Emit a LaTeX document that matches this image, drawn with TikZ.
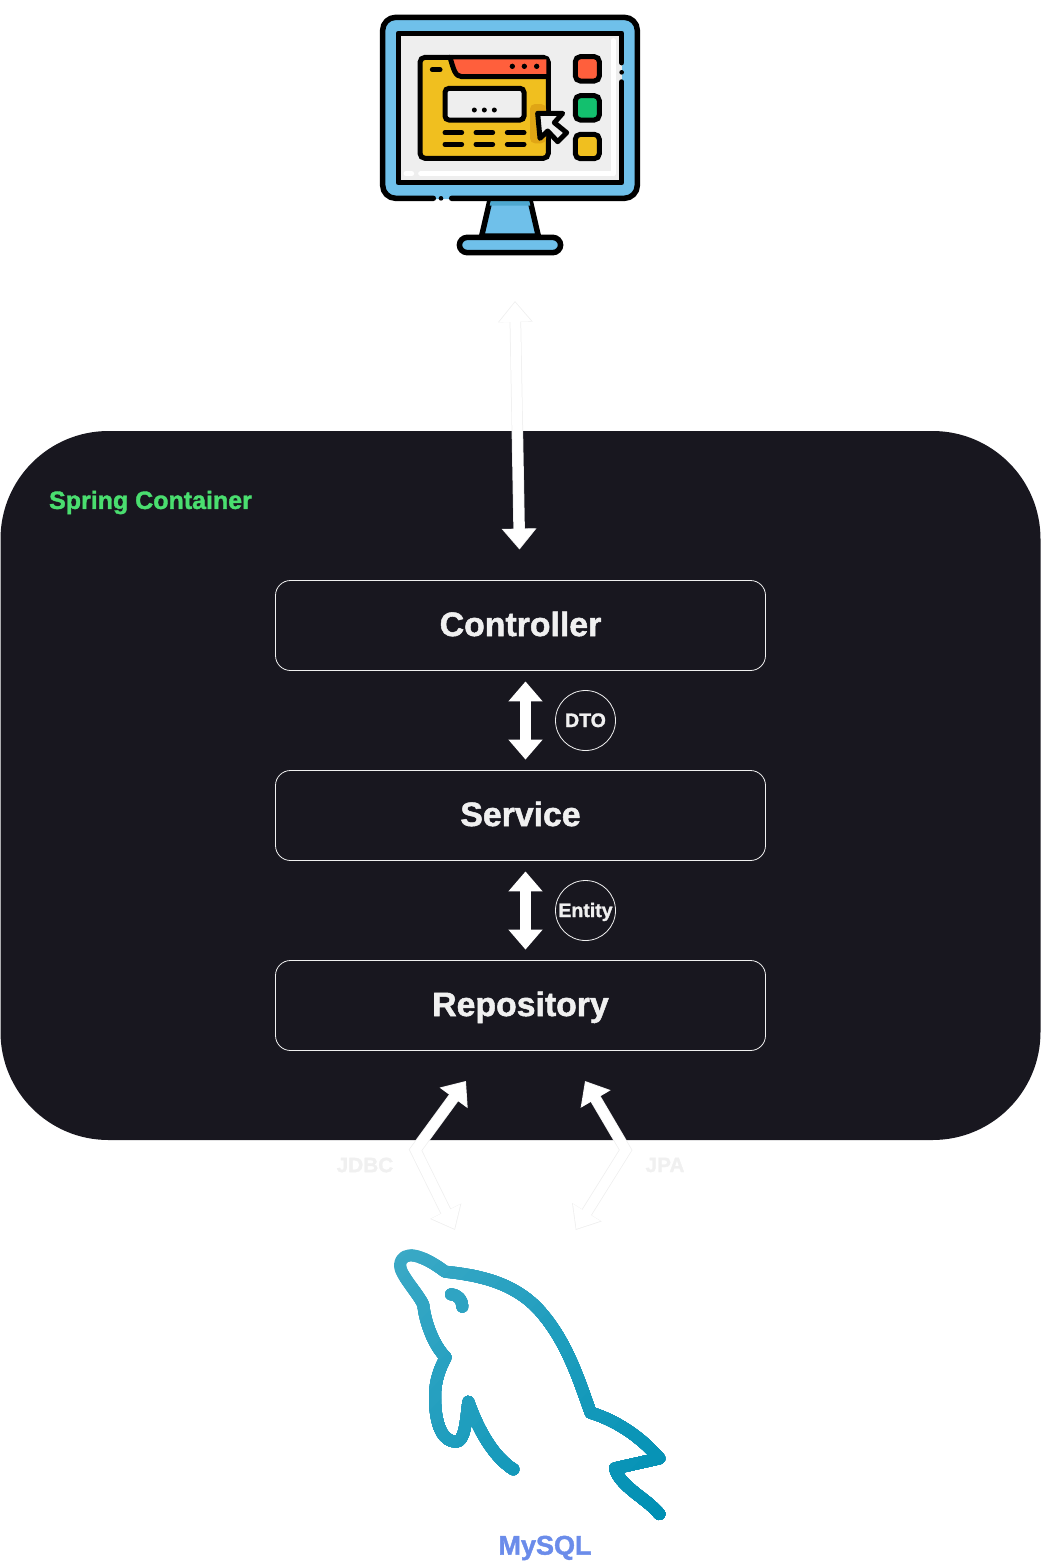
\documentclass[tikz,border=0pt]{standalone}
\usepackage{fontspec}
\setmainfont{Liberation Sans}[BoldFeatures={FakeBold=1.5}]
\usetikzlibrary{arrows.meta,calc}
\definecolor{panelink}{HTML}{18171F}
\definecolor{labelgrey}{HTML}{F0F0F0}
\definecolor{faintline}{HTML}{EFEFEF}
\definecolor{springgreen}{HTML}{4ADE6F}
\definecolor{mysqlblue}{HTML}{6B8CEA}
\definecolor{screenblue}{HTML}{6FC0EA}
\definecolor{standdark}{HTML}{4EA8D0}
\definecolor{screengrey}{HTML}{EEEEEE}
\definecolor{winyellow}{HTML}{F0BF1F}
\definecolor{winshadow}{HTML}{E0A515}
\definecolor{winred}{HTML}{FF5F3C}
\definecolor{wingreen}{HTML}{13C06E}
\definecolor{dolphinA}{HTML}{3AA9C6}
\definecolor{dolphinB}{HTML}{0090B4}
\newcommand{\dolphinbody}{%
  (400,688) .. controls (340,650) and (295,570) .. (265,485)
  .. controls (258,540) and (255,605) .. (228,605)
  .. controls (190,605) and (165,560) .. (165,470)
  .. controls (165,420) and (180,385) .. (197,352)
  .. controls (160,315) and (135,245) .. (130,195)
  .. controls (115,160) and (60,105) .. (60,75)
  .. controls (65,25) and (130,45) .. (195,95)
  .. controls (290,105) and (410,125) .. (490,225)
  .. controls (565,315) and (600,430) .. (632,518)
  .. controls (720,545) and (790,600) .. (838,655)
  -- (705,685)
  .. controls (720,740) and (800,775) .. (838,822)
  (213,163) .. controls (235,165) and (247,180) .. (247,200)}
\tikzset{
  panel/.style={draw=none,fill=panelink,rounded corners=108pt,minimum width=1040pt,minimum height=709pt,inner sep=0},
  layerbox/.style={draw=labelgrey,line width=0.8pt,fill=panelink,rounded corners=15pt,minimum width=490pt,minimum height=90pt,inner sep=0,text=labelgrey,text height=28pt,text depth=7pt,font=\fontsize{33.8}{36}\selectfont\bfseries},
  tagcircle/.style={circle,draw=labelgrey,line width=0.8pt,minimum size=60pt,inner sep=0,text=labelgrey,text height=17pt,text depth=4pt,font=\fontsize{19.5}{22}\selectfont\bfseries},
  flowback/.style={draw=faintline,line width=11.5pt,line join=miter,{Triangle[length=21pt,width=33.5pt]}-{Triangle[length=21pt,width=33.5pt]}},
  flowfront/.style={draw=white,line width=10pt,line join=miter,shorten >=1.2pt,shorten <=1.2pt,{Triangle[length=19.5pt,width=31pt]}-{Triangle[length=19.5pt,width=31pt]}},
  solidflow/.style={draw=white,line width=11.5pt,{Triangle[length=20pt,width=33pt]}-{Triangle[length=20pt,width=33pt]}},
  faintlabel/.style={text=labelgrey,inner sep=0,font=\fontsize{20.8}{24}\selectfont\bfseries},
  iconline/.style={draw=black,line width=5.5pt,line join=round,line cap=round},
  icondot/.style={fill=black,draw=none},
}
\begin{document}
\begin{tikzpicture}[x=1pt,y=-1pt]
\useasboundingbox (0,0) rectangle (1041,1561);
% container
\node[panel] (container) at (520.5,785.5) {};
\node[text=springgreen,inner sep=0,font=\fontsize{25}{28}\selectfont\bfseries] (springlabel) at (150.5,502.5) {Spring Container};
% layers
\node[layerbox] (controller) at (520.5,625.5) {Controller};
\node[layerbox] (service) at (520.5,815.5) {Service};
\node[layerbox] (repository) at (520.5,1005.5) {Repository};
\node[tagcircle] (dto) at (585.5,720.5) {DTO};
\node[tagcircle] (entity) at (585.5,910.5) {Entity};
% monitor icon
\begin{scope}[shift={(370,0)},x=0.33333pt,y=-0.33333pt]
  \filldraw[fill=screenblue,draw=black,line width=5.5pt,line join=round] (360,600) -- (480,600) -- (505,708) -- (335,708) -- cycle;
  \fill[standdark] (362,603) -- (478,603) -- (481,617) -- (359,617) -- cycle;
  \filldraw[fill=screenblue,draw=black,line width=5.5pt,rounded corners=8pt] (268,712) rectangle (572,758);
  \fill[screenblue,rounded corners=13pt] (38,52) rectangle (802,597);
  \draw[iconline,rounded corners=13pt] (190,595) -- (38,595) -- (38,52) -- (802,52) -- (802,595) -- (245,595);
  \fill[icondot] (213,595) circle (7);
  \fill[screengrey] (85,100) rectangle (755,548);
  \draw[white,line width=5pt,line cap=round] (729,122) -- (729,521);
  \draw[white,line width=5pt,line cap=round] (152,521) -- (729,521);
  \draw[white,line width=5pt,line cap=round] (108,521) -- (125,521);
  \draw[iconline] (755,188) -- (755,100) -- (85,100) -- (85,548) -- (755,548) -- (755,246);
  \fill[icondot] (755,217) circle (7);
  % browser window
  \filldraw[fill=winyellow,draw=black,line width=5pt,rounded corners=5pt] (150,172) rectangle (535,475);
  \fill[winred] (245,178) -- (529,178) -- (529,228) -- (270,228) -- cycle;
  \draw[iconline,line width=5pt] (240,172) .. controls (250,205) and (255,230) .. (275,230) -- (535,230);
  \foreach \dotx in {427,463,500} \fill[icondot] (\dotx,199) circle (8);
  \draw[iconline,line width=5pt] (187,209) -- (210,209);
  \filldraw[fill=screengrey,draw=black,line width=5pt,rounded corners=4pt] (225,265) rectangle (462,360);
  \foreach \dotx in {313,343,373} \fill[icondot] (\dotx,330) circle (7.5);
  \foreach \rowy in {398,433} {
    \draw[iconline,line width=5pt] (225,\rowy) -- (275,\rowy);
    \draw[iconline,line width=5pt] (318,\rowy) -- (368,\rowy);
    \draw[iconline,line width=5pt] (412,\rowy) -- (462,\rowy);
  }
  \fill[winshadow,rounded corners=5pt] (480,312) rectangle (528,430);
  \draw[draw=black,fill=screengrey,line width=5pt,line join=round] (503,340) -- (578,340) -- (553,368) -- (590,398) -- (563,425) -- (533,393) -- (510,415) -- cycle;
  % buttons
  \filldraw[fill=winred,draw=black,line width=5pt,rounded corners=5pt] (616,170) rectangle (688,243);
  \filldraw[fill=wingreen,draw=black,line width=5pt,rounded corners=5pt] (616,287) rectangle (688,360);
  \filldraw[fill=winyellow,draw=black,line width=5pt,rounded corners=5pt] (616,403) rectangle (688,476);
  \coordinate (iconbottom) at (420,760);
\end{scope}
% dolphin: diagonal colour gradient built from overlapping clipped strokes
\begin{scope}[shift={(380,1240)},x=0.33333pt,y=-0.33333pt]
  \foreach \band [evaluate=\band as \bandstart using {60+\band*60}, evaluate=\band as \bandmix using {100-\band*100/26}] in {0,...,26} {
    \begin{scope}
      \clip (\bandstart+1000,-1000) -- (\bandstart-2000,2000) -- (4000,2000) -- (4000,-1000) -- cycle;
      \draw[dolphinA!\bandmix!dolphinB,line width=12pt,line cap=round,line join=round] \dolphinbody;
    \end{scope}
  }
  \coordinate (dolphintop) at (450,60);
\end{scope}
\node[text=mysqlblue,inner sep=0,font=\fontsize{27}{30}\selectfont\bfseries] (mysql) at (545,1548) {MySQL};
% connectors
\coordinate (browserend) at ($(iconbottom)+(5,47.7)$);
\coordinate (controllerend) at ($(controller.north)+(-1,-30.5)$);
\draw[flowback] (browserend) -- (controllerend);
\draw[flowfront] (browserend) -- (controllerend);
\draw[solidflow] ($(controller.south)+(5,10.5)$) -- ($(service.north)+(5,-10.5)$);
\draw[solidflow] ($(service.south)+(5,10.5)$) -- ($(repository.north)+(5,-10.5)$);
\coordinate (jdbctop) at ($(repository.south)+(-54.5,30)$);
\coordinate (jdbcbend) at (415.5,1150);
\coordinate (jdbcend) at ($(dolphintop)+(-75,-30)$);
\coordinate (jpatop) at ($(repository.south)+(64.5,30)$);
\coordinate (jpabend) at (625.7,1150);
\coordinate (jpaend) at ($(dolphintop)+(45.7,-30)$);
\draw[flowback] (jdbctop) -- (jdbcbend) -- (jdbcend);
\draw[flowfront] (jdbctop) -- (jdbcbend) -- (jdbcend);
\draw[flowback] (jpatop) -- (jpabend) -- (jpaend);
\draw[flowfront] (jpatop) -- (jpabend) -- (jpaend);
\node[faintlabel] (jdbc) at (365,1165) {JDBC};
\node[faintlabel] (jpa) at (665,1165) {JPA};
\end{tikzpicture}
\end{document}
